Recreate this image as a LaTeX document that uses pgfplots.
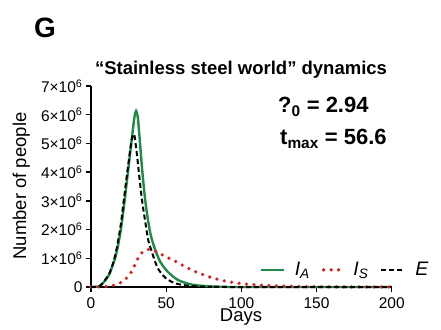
\documentclass[border=0pt]{standalone}
\usepackage{fontspec}
\setmainfont{Liberation Sans}
\usepackage{pgfplots}
\pgfplotsset{compat=1.18}
\usepackage{pgfplotstable}
\definecolor{cgreen}{RGB}{30,140,70}
\definecolor{cred}{RGB}{222,30,30}
\pgfplotsset{
  leggreen/.style={legend image code/.code={\draw[##1] (0pt,0pt) -- (23pt,0pt);}},
  legred/.style={legend image code/.code={\draw[##1] (2pt,0pt) -- (20pt,0pt);}},
  legblack/.style={legend image code/.code={\draw[##1] (0pt,0pt) -- (23pt,0pt);}},
}
\pgfplotstableread{
x y
0 0
3 0.005
6 0.04
9 0.2
12 0.42
14 0.7
16 1.0
18 1.45
20 2.05
22 2.85
24 3.75
26 4.65
28 5.55
29 5.95
30 6.13
31 5.95
32 5.4
34 4.1
36 3.05
38 2.3
40 1.75
43 1.25
46 0.88
48 0.72
52 0.48
58 0.24
65 0.11
70 0.06
80 0.02
90 0.005
100 0
200 0
}\dataIA
\pgfplotstableread{
x y
0 0
3 0.006
6 0.04
9 0.22
12 0.45
14 0.72
16 1.08
18 1.6
20 2.25
22 3.1
24 3.95
26 4.75
27 5.1
28 5.32
29 5.25
30 4.85
31 4.4
32 3.9
34 3.0
36 2.3
38 1.65
40 1.3
44 0.7
48 0.4
51 0.26
55 0.15
60 0.08
70 0.02
80 0.005
90 0
200 0
}\dataE
\pgfplotstableread{
x y
0 0
5 0.005
10 0.02
15 0.06
20 0.16
25 0.38
28 0.64
31 0.97
34 1.2
37 1.3
40 1.3
43 1.24
47 1.13
52 1.0
56 0.9
60 0.78
66 0.62
70 0.52
80 0.33
90 0.2
100 0.12
110 0.075
120 0.045
140 0.016
160 0.006
180 0.002
200 0.001
}\dataIS
\begin{document}
\begin{tikzpicture}[x=1pt,y=1pt]
\path[use as bounding box] (0,0) rectangle (441,329);
\begin{axis}[
  at={(91pt,42pt)}, anchor=south west,
  scale only axis, width=300.7pt, height=201pt,
  xmin=0, xmax=200, ymin=0, ymax=7,
  axis lines=left,
  axis line style={-, line width=1.6pt},
  every tick/.style={black, line width=1.3pt},
  major tick length=5pt,
  tick align=outside,
  xtick={0,50,100,150,200},
  xticklabels={0,50,100,150,200},
  ytick={0,1,2,3,4,5,6,7},
  yticklabels={0,1×10\textsuperscript{6},2×10\textsuperscript{6},3×10\textsuperscript{6},4×10\textsuperscript{6},5×10\textsuperscript{6},6×10\textsuperscript{6},7×10\textsuperscript{6}},
  ticklabel style={font=\fontsize{15.5}{15.5}\selectfont},
  xticklabel style={yshift=-2pt},
  clip=false,
  legend columns=3,
  legend style={draw=none, fill=none, inner sep=0pt, outer sep=0pt,
    at={(rel axis cs:0.56,0.085)}, anchor=west,
    font=\fontsize{19.5}{19.5}\selectfont,
    nodes={inner sep=0pt},
    /tikz/every even column/.append style={column sep=12pt},
    /tikz/every odd column/.append style={column sep=10pt}},
]
\addplot[cgreen, line width=2.4pt, smooth, tension=0.5, leggreen]
  table[x=x,y=y]{\dataIA};
\addlegendentry{\textit{I}\textsubscript{\textit{A}}}
\addplot[cred, line width=3.6pt, line cap=round, dash pattern=on 0pt off 7.5pt, smooth, tension=0.5, legred]
  table[x=x,y=y]{\dataIS};
\addlegendentry{\textit{I}\textsubscript{\textit{S}}}
\addplot[black, line width=2pt, dash pattern=on 5pt off 3pt, smooth, tension=0.5, legblack]
  table[x=x,y=y]{\dataE};
\addlegendentry{\textit{E}}
\end{axis}
\node[anchor=base west, inner sep=0pt, font=\fontsize{28}{28}\selectfont\bfseries] at (34,291) {G};
\node[anchor=base, inner sep=0pt, font=\fontsize{18.5}{18.5}\selectfont\bfseries] at (241,254) {“Stainless steel world” dynamics};
\node[anchor=base, inner sep=0pt, rotate=90, font=\fontsize{18.5}{18.5}\selectfont] at (26,143) {Number of people};
\node[anchor=base, inner sep=0pt, font=\fontsize{18.5}{18.5}\selectfont] at (241,8) {Days};
\node[anchor=base west, inner sep=0pt, font=\fontsize{22}{22}\selectfont\bfseries] at (278,216) {?\textsubscript{0} = 2.94};
\node[anchor=base west, inner sep=0pt, font=\fontsize{22}{22}\selectfont\bfseries] at (280,184) {t\textsubscript{max} = 56.6};
\end{tikzpicture}
\end{document}
